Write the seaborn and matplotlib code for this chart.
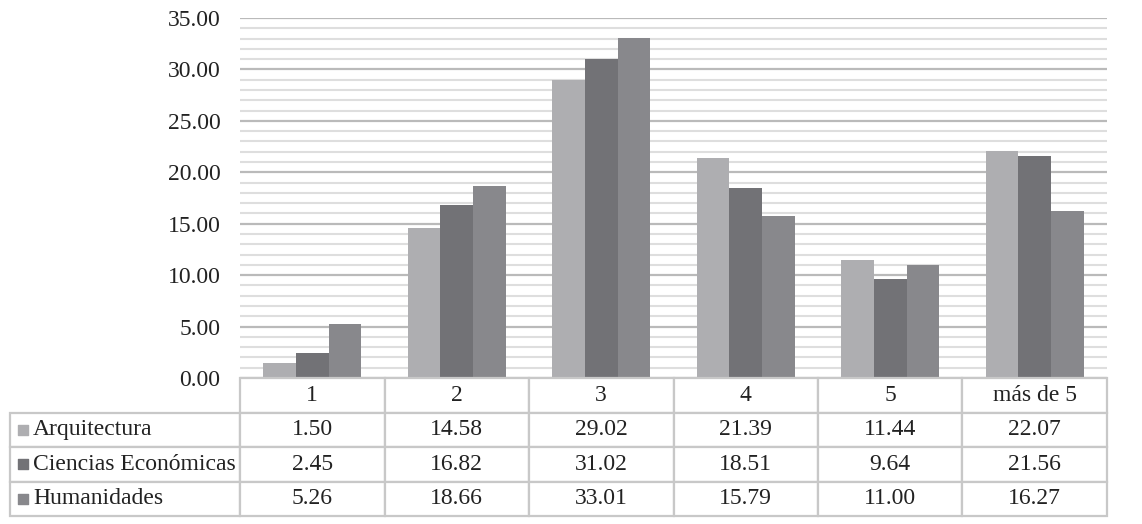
import pandas as pd
import matplotlib
matplotlib.use('Agg')
import matplotlib.pyplot as plt
import seaborn as sns
from matplotlib.ticker import MultipleLocator, FormatStrFormatter

categorias = ['1', '2', '3', '4', '5', 'más de 5']
series = ['Arquitectura', 'Ciencias Económicas', 'Humanidades']
arquitectura = [1.50, 14.58, 29.02, 21.39, 11.44, 22.07]
ciencias = [2.45, 16.82, 31.02, 18.51, 9.64, 21.56]
humanidades = [5.26, 18.66, 33.01, 15.79, 11.00, 16.27]
colores = ['#aeaeb1', '#727276', '#88888c']

valores = [arquitectura, ciencias, humanidades]
df = pd.DataFrame({
    'cat': categorias * 3,
    'serie': [s for s in series for _ in categorias],
    'val': arquitectura + ciencias + humanidades,
})

sns.set_style('white')
plt.rcParams['font.family'] = 'serif'
plt.rcParams['font.serif'] = ['Liberation Serif', 'DejaVu Serif']

W, H = 1142, 524
fs = 17
fig = plt.figure(figsize=(W / 100, H / 100), dpi=100)
ax = fig.add_axes([240 / W, 1 - 378 / H, (1107 - 240) / W, (378 - 18) / H])

sns.barplot(data=df, x='cat', y='val', hue='serie', order=categorias, hue_order=series,
            palette=colores, saturation=1, width=0.68, linewidth=0, legend=False, ax=ax, zorder=3)

ax.set_ylim(0, 35)
ax.set_xlim(-0.5, len(categorias) - 0.5)
ax.yaxis.set_major_locator(MultipleLocator(5))
ax.yaxis.set_minor_locator(MultipleLocator(1))
ax.yaxis.set_major_formatter(FormatStrFormatter('%.2f'))
ax.grid(which='minor', axis='y', color='#dedede', linewidth=1.5, zorder=0)
ax.grid(which='major', axis='y', color='#bababa', linewidth=1.6, zorder=1)
ax.set_axisbelow(True)
ax.tick_params(axis='y', which='both', length=0, pad=14, labelsize=fs, colors='#222222')
ax.set_xticks([])
ax.set_xlabel('')
ax.set_ylabel('')
for s in ax.spines.values():
    s.set_visible(False)

# tabla de datos
tw = 1107 - 10
tax = fig.add_axes([10 / W, 1 - 516 / H, tw / W, (516 - 378) / H])
tax.axis('off')
tax.set_xlim(0, 1)
tax.set_ylim(0, 1)
filas = [[''] + categorias]
for s, v in zip(series, valores):
    filas.append([s] + [f'{x:.2f}' for x in v])
wcol = (1107 - 240) / tw / 6
tabla = tax.table(cellText=filas, bbox=[0, 0, 1, 1], cellLoc='center',
                  colWidths=[1 - 6 * wcol] + [wcol] * 6)
tabla.auto_set_font_size(False)
for (r, c), cell in tabla.get_celld().items():
    cell.set_edgecolor('#c8c8c8')
    cell.set_linewidth(1.6)
    cell.get_text().set_fontsize(fs)
    cell.get_text().set_color('#222222')
    if c == 0:
        cell.get_text().set_horizontalalignment('left')
        cell._loc = 'left'
        cell.PAD = 23 / 230
    if r == 0 and c == 0:
        cell.visible_edges = 'B'
        cell.set_edgecolor('#ffffff')

for i, col in enumerate(colores):
    y = 1 - (i + 1.5) / 4
    tax.scatter([13 / tw], [y], marker='s', s=60, color=col, zorder=5, clip_on=False)

fig.savefig('out.png', dpi=100)
